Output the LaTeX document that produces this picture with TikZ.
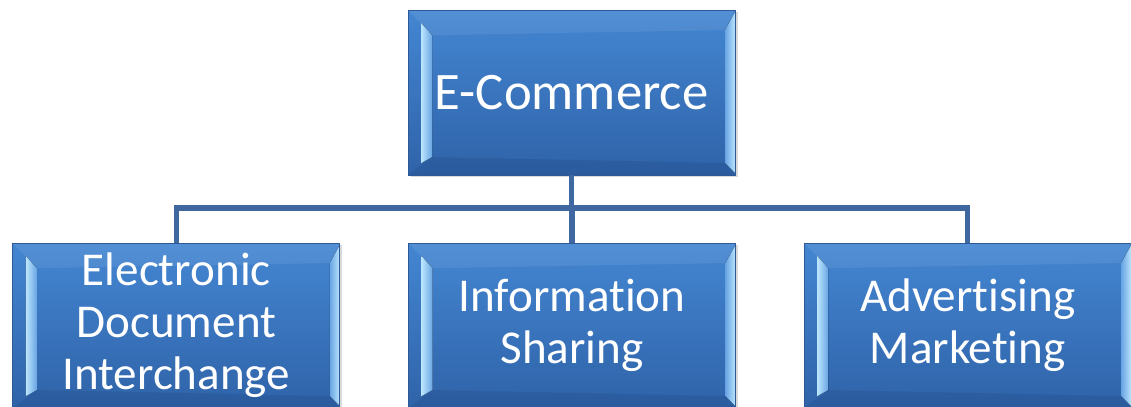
\documentclass[tikz,border=0pt]{standalone}
\usepackage{fontspec}
\setmainfont{Carlito}[Ligatures={NoCommon,NoContextual}]
\usetikzlibrary{positioning}
\usetikzlibrary{shadows}

\definecolor{boxtop}{RGB}{68,134,210}
\definecolor{boxbot}{RGB}{47,99,168}
\definecolor{boxedge}{RGB}{45,90,150}
\definecolor{facetlight}{RGB}{185,228,252}
\definecolor{facetmid}{RGB}{105,165,228}
\definecolor{facetdark}{RGB}{36,78,140}
\definecolor{connblue}{RGB}{64,104,160}

\tikzset{
  bevelbox/.style={rectangle, minimum width=8.175cm, minimum height=4.125cm, inner sep=0pt,
    top color=boxtop, bottom color=boxbot, draw=boxedge, line width=0.5pt,
    text=white, align=center,
    drop shadow={shadow xshift=0.06cm, shadow yshift=-0.06cm, opacity=0.3},
    path picture={
      \coordinate (nw) at (path picture bounding box.north west);
      \coordinate (ne) at (path picture bounding box.north east);
      \coordinate (sw) at (path picture bounding box.south west);
      \coordinate (se) at (path picture bounding box.south east);
      % top and bottom facets
      \fill[white, opacity=0.08] (nw) -- (ne) -- ([shift={(-0.25,-0.5)}]ne) -- ([shift={(0.6,-0.63)}]nw) -- cycle;
      \fill[facetdark, opacity=0.35] (sw) -- (se) -- ([shift={(-0.25,0.3)}]se) -- ([shift={(0.6,0.45)}]sw) -- cycle;
      % left and right facets
      \fill[left color=facetlight, right color=facetmid] ([shift={(0.33,-0.33)}]nw) -- ([shift={(0.6,-0.63)}]nw) -- ([shift={(0.6,0.45)}]sw) -- ([shift={(0.33,0.3)}]sw) -- cycle;
      \fill[left color=facetmid, right color=facetlight] ([shift={(0,-0.05)}]ne) -- ([shift={(-0.25,-0.5)}]ne) -- ([shift={(-0.25,0.3)}]se) -- ([shift={(0,0.05)}]se) -- cycle;
    }},
  topfont/.style={font=\fontsize{37.5}{41}\selectfont},
  subfont/.style={font=\fontsize{33.5}{37}\selectfont},
  conn/.style={draw=connblue, line width=3.6pt}
}

\begin{document}
\begin{tikzpicture}
    % Fix the frame of the picture
    \useasboundingbox (0,0) rectangle (28.275,-10.15);
    \clip (0,0) rectangle (28.275,-10.15);

    % Define the boxes
    \node[bevelbox, topfont] (ecom) at (14.29,-2.3125) {E-Commerce};
    \node[bevelbox, subfont] (info) at (14.3,-8.1375) {Information\\Sharing};
    \node[bevelbox, subfont, left=1.7cm of info] (edi) {Electronic\\Document\\Interchange};
    \node[bevelbox, subfont, right=1.7cm of info] (adv) {Advertising\\Marketing};

    % Draw the lines
    \coordinate (bus) at (14.29,-5.2);
    \draw[conn] (ecom.south) -- (bus);
    \foreach \child in {edi, info, adv}
    \draw[conn] (\child.north) |- (bus);
\end{tikzpicture}
\end{document}
